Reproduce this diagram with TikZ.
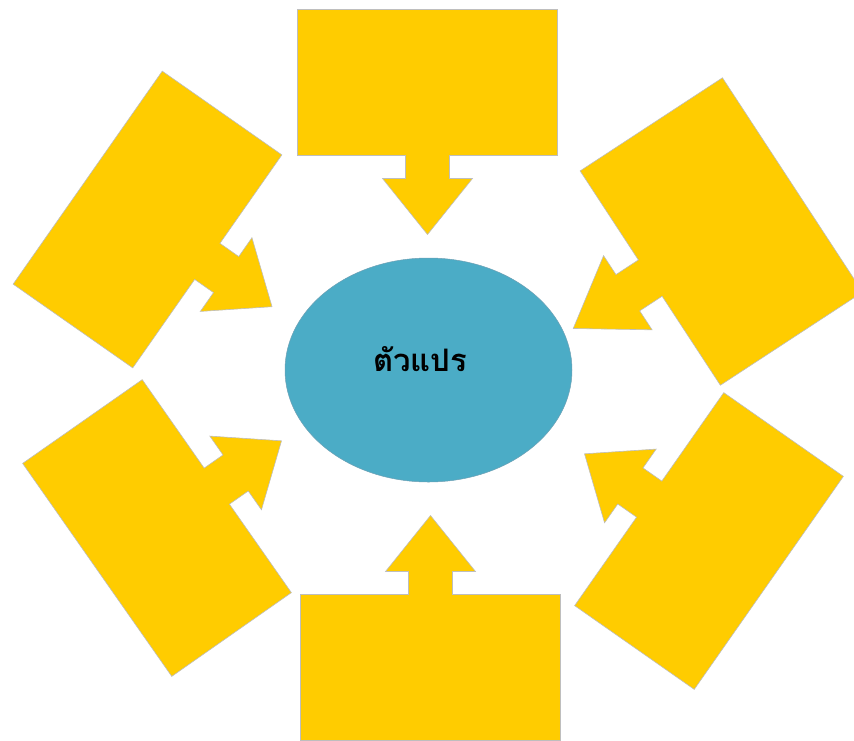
\documentclass[tikz,border=0pt]{standalone}
\usepackage{fontspec}
\newfontfamily\thaifont[Script=Thai]{Loma}
\usetikzlibrary{shapes.geometric}
\definecolor{callyellow}{RGB}{255,204,0}
\definecolor{calledge}{RGB}{190,190,190}
\definecolor{ovalfill}{RGB}{75,172,198}
\definecolor{ovaledge}{RGB}{110,160,180}
\tikzset{
  callfill/.style={fill=callyellow,draw=calledge,line width=0.6pt,line join=miter},
  callout/.pic={
    \path[callfill] (-130,73) -- (130,73) -- (130,-73) -- (22,-73) -- (22,-96)
      -- (45,-96) -- (0,-152) -- (-45,-96) -- (-22,-96) -- (-22,-73)
      -- (-130,-73) -- cycle;
  },
  oval/.style={ellipse,fill=ovalfill,draw=ovaledge,line width=0.5pt,inner sep=0pt,
    minimum width=287pt,minimum height=224pt},
  label/.style={font=\thaifont\bfseries\fontsize{31}{37}\selectfont,inner sep=0pt}
}
\begin{document}
\begin{tikzpicture}[x=1pt,y=1pt]
\useasboundingbox (0,0) rectangle (854,-740);
\begin{scope}
\clip (0,0) rectangle (854,-740);
\pic (ctop) at (427.5,-82.5) {callout};
\pic[rotate=180] (cbot) at (430.5,-667.5) {callout};
\pic[rotate=55] (cul) at (147.5,-219.5) {callout};
\pic[rotate=-56.8,xscale=0.985,yscale=1.165] (cur) at (721.4,-231.5) {callout};
\pic[rotate=125] (cll) at (157,-528) {callout};
\pic[rotate=-125] (clr) at (709,-541) {callout};
\end{scope}
\node[oval] (center) at (428.5,-370) {};
\node[label] (txt) at (420,-359) {ตัวแปร};
\end{tikzpicture}
\end{document}
